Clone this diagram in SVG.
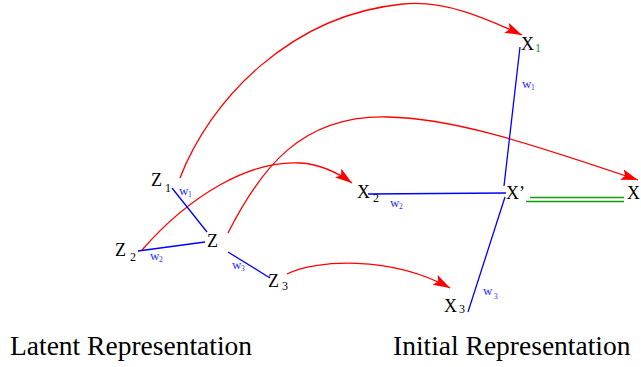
<svg xmlns="http://www.w3.org/2000/svg" width="641" height="367" viewBox="0 0 641 367">
<defs>
<style>
.lbl{font-family:"Liberation Serif","Times New Roman",serif;font-size:18px;fill:#000}
.sub{font-family:"Liberation Serif","Times New Roman",serif;font-size:12px;fill:#000}
.w{font-family:"Liberation Serif","Times New Roman",serif;font-size:13px;fill:#2a2aff}
.ws{font-family:"Liberation Serif","Times New Roman",serif;font-size:7.5px;fill:#2a2aff}
.cap{font-family:"Liberation Serif","Times New Roman",serif;font-size:27.5px;fill:#000}
.red{fill:none;stroke:#ff0000;stroke-width:1.3}
.blue{fill:none;stroke:#0000ff;stroke-width:1.3}
.green{fill:none;stroke:#0f9a0f;stroke-width:1.4}
</style>
<marker id="ah" markerUnits="userSpaceOnUse" markerWidth="18" markerHeight="12" refX="17" refY="5.5" orient="auto">
<path d="M0,0 L17,5.5 L0,11 L3.5,5.5 z" fill="#ff0000"/>
</marker>
</defs>
<rect width="641" height="367" fill="#fff"/>
<g id="connectors">
<path class="red" d="M180,178 C210,100 290,15 403,4 C445,0 485,18 522,35" marker-end="url(#ah)"/>
<path class="red" d="M142,250 C190,195 250,160 300,163 C320,164 338,173 352,183" marker-end="url(#ah)"/>
<path class="red" d="M228,233 C260,170 300,115 387,117 C450,118 520,140 638,180" marker-end="url(#ah)"/>
<path class="red" d="M287,274 C315,260 390,255 450,288" marker-end="url(#ah)"/>
<line class="blue" x1="172" y1="188" x2="207" y2="232"/>
<line class="blue" x1="138" y1="251" x2="205" y2="242"/>
<line class="blue" x1="228" y1="252" x2="270" y2="278"/>
<line class="blue" x1="368" y1="194" x2="506" y2="193"/>
<line class="blue" x1="520" y1="47" x2="504" y2="186"/>
<line class="blue" x1="505" y1="197" x2="468" y2="312"/>
<line class="green" x1="530" y1="197.5" x2="624" y2="197.5"/>
<line class="green" x1="526" y1="201.5" x2="624" y2="201.5"/>
<text class="w" x="179" y="195">w</text><text class="ws" x="188" y="197">1</text>
<text class="w" x="150" y="260">w</text><text class="ws" x="159" y="262">2</text>
<text class="w" x="232" y="269">w</text><text class="ws" x="241" y="271">3</text>
<text class="w" x="522" y="88">w</text><text class="ws" x="531" y="90">1</text>
<text class="w" x="390" y="207">w</text><text class="ws" x="399" y="209">2</text>
<text class="w" x="483" y="295">w</text><text class="ws" x="494" y="299">3</text>
</g>
<g id="Z1"><text class="lbl" x="151" y="186">Z</text><text class="sub" x="165" y="192">1</text></g>
<g id="Z2"><text class="lbl" x="115" y="256">Z</text><text class="sub" x="130" y="261">2</text></g>
<g id="Z"><text class="lbl" x="207" y="247">Z</text></g>
<g id="Z3"><text class="lbl" x="268" y="287">Z</text><text class="sub" x="282" y="290">3</text></g>
<g id="X1"><text class="lbl" x="521" y="50">X</text><text class="sub" x="535" y="52" style="fill:#0f9a0f">1</text></g>
<g id="X2"><text class="lbl" x="357" y="198">X</text><text class="sub" x="373" y="202">2</text></g>
<g id="Xp"><text class="lbl" x="506" y="199">X’</text></g>
<g id="X"><text class="lbl" x="627" y="199">X</text></g>
<g id="X3"><text class="lbl" x="444" y="312">X</text><text class="sub" x="459" y="313">3</text></g>
<g id="captions">
<text class="cap" x="10" y="355">Latent Representation</text>
<text class="cap" x="393" y="355">Initial Representation</text>
</g>
</svg>
